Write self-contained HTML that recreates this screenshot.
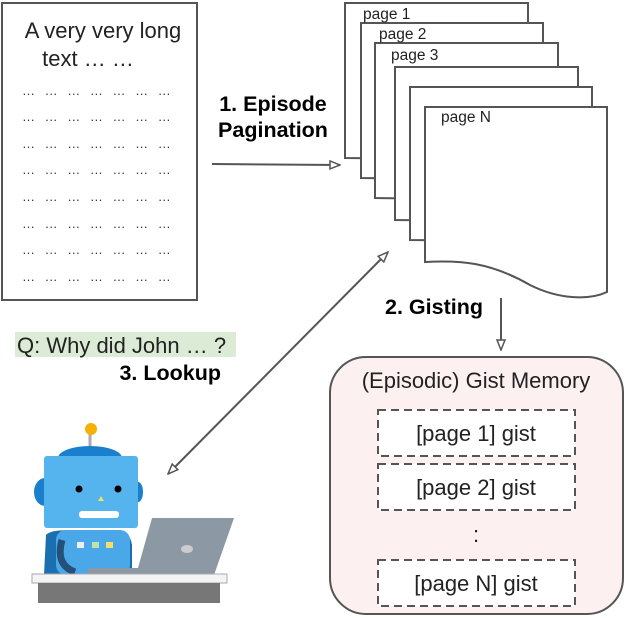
<!DOCTYPE html>
<html><head><meta charset="utf-8"><style>
html,body{margin:0;padding:0;background:#fff;width:626px;height:618px;overflow:hidden}
svg{display:block;font-family:"Liberation Sans",sans-serif}
</style></head><body>
<svg width="626" height="618" viewBox="0 0 626 618" xmlns="http://www.w3.org/2000/svg">
<defs>
<marker id="ah" markerWidth="12" markerHeight="10" refX="11" refY="5" orient="auto" markerUnits="userSpaceOnUse">
<path d="M1,1 L11,5 L1,9 Z" fill="#fff" stroke="#555" stroke-width="1.5"/>
</marker>
<marker id="ahs" markerWidth="12" markerHeight="10" refX="1" refY="5" orient="auto" markerUnits="userSpaceOnUse">
<path d="M11,1 L1,5 L11,9 Z" fill="#fff" stroke="#555" stroke-width="1.5"/>
</marker>
</defs>
<rect x="2" y="3" width="195" height="297" fill="#fff" stroke="#555" stroke-width="2"/>
<text x="103" y="38" font-size="22" text-anchor="middle" fill="#222">A very very long</text>
<text x="88" y="66" font-size="22" text-anchor="middle" fill="#222">text … …</text>
<g font-size="13" fill="#333" letter-spacing="1.2">
<text x="22" y="95" textLength="150">… … … … … … …</text>
<text x="22" y="121" textLength="150">… … … … … … …</text>
<text x="22" y="148" textLength="150">… … … … … … …</text>
<text x="22" y="174" textLength="150">… … … … … … …</text>
<text x="22" y="201" textLength="150">… … … … … … …</text>
<text x="22" y="228" textLength="150">… … … … … … …</text>
<text x="22" y="254" textLength="150">… … … … … … …</text>
<text x="22" y="281" textLength="150">… … … … … … …</text>
</g>
<text x="273" y="111" font-size="21.5" font-weight="bold" text-anchor="middle">1. Episode</text>
<text x="273" y="137" font-size="21.5" font-weight="bold" text-anchor="middle">Pagination</text>
<line x1="212" y1="164" x2="340" y2="165" stroke="#555" stroke-width="2" marker-end="url(#ah)"/>
<g fill="#fff" stroke="#555" stroke-width="2">
<path d="M345,3 H528 V160 L345,158 Z"/>
<path d="M361,23 H543 V180 L361,178 Z"/>
<path d="M375,43 H558 V200 L375,198 Z"/>
<path d="M395,67 H578 V222 L395,220 Z"/>
<path d="M410,87 H592 V242 L410,240 Z"/>
<path d="M425,107 H607 V292 C590,300 560,300 530,285 C490,262 460,260 425,262 Z"/>
</g>
<g font-size="15.5" fill="#222">
<text x="363" y="19">page 1</text>
<text x="379" y="39">page 2</text>
<text x="391" y="60">page 3</text>
<text x="441" y="122">page N</text>
</g>
<text x="434" y="314" font-size="21.5" font-weight="bold" text-anchor="middle">2. Gisting</text>
<line x1="501" y1="298" x2="501" y2="350" stroke="#555" stroke-width="2" marker-end="url(#ah)"/>
<rect x="15" y="332" width="221" height="25" fill="#dcebd6"/>
<text x="17" y="353" font-size="22" fill="#222">Q: Why did John … ?</text>
<text x="221" y="380" font-size="21.5" font-weight="bold" text-anchor="end">3. Lookup</text>
<line x1="168" y1="474" x2="388" y2="252" stroke="#555" stroke-width="2" marker-start="url(#ahs)" marker-end="url(#ah)"/>
<rect x="330" y="357" width="293" height="257" rx="36" fill="#fcf0f0" stroke="#555" stroke-width="2"/>
<text x="476" y="388" font-size="22" text-anchor="middle" fill="#222">(Episodic) Gist Memory</text>
<g fill="#fff" stroke="#555" stroke-width="2" stroke-dasharray="8,5">
<rect x="378" y="410" width="197" height="46"/>
<rect x="378" y="464" width="197" height="46"/>
<rect x="378" y="560" width="197" height="46"/>
</g>
<g font-size="22" text-anchor="middle" fill="#222">
<text x="476" y="441">[page 1] gist</text>
<text x="476" y="495">[page 2] gist</text>
<text x="476" y="591">[page N] gist</text>
<text x="476" y="542">:</text>
</g>
<g>
<line x1="90" y1="430" x2="90" y2="448" stroke="#aab" stroke-width="3"/>
<circle cx="91" cy="429" r="6" fill="#f5b000"/>
<ellipse cx="90" cy="458" rx="32" ry="12" fill="#1a7fcc"/>
<ellipse cx="45" cy="492" rx="11" ry="14" fill="#1a7fcc"/>
<ellipse cx="138" cy="492" rx="5" ry="10" fill="#1a7fcc"/>
<path d="M46,535 Q50,530 70,530 H115 Q130,530 132,545 V575 H44 Z" fill="#1a6fb0"/>
<rect x="56" y="530" width="74" height="45" rx="10" fill="#4aa8e8"/>
<rect x="44" y="456" width="94" height="72" rx="3" fill="#55b3ee"/>
<circle cx="79" cy="489" r="3.5" fill="#000"/>
<circle cx="118" cy="489" r="3.5" fill="#000"/>
<path d="M98,501 L101,496 L104,501 Z" fill="#f0e060"/>
<rect x="79" y="511" width="40" height="7" rx="3" fill="#fff"/>
<rect x="77" y="542" width="7" height="6" fill="#eee"/>
<rect x="92" y="542" width="7" height="6" fill="#bfe3a8"/>
<rect x="106" y="542" width="7" height="6" fill="#f3e06a"/>
<path d="M62,540 Q55,565 75,572" stroke="#24507a" stroke-width="7" fill="none"/>
<path d="M152,518 H234 L214,575 H136 Z" fill="#8c98a4"/>
<ellipse cx="187" cy="549" rx="6" ry="4" fill="#ccc"/>
<rect x="88" y="568" width="60" height="6" fill="#8c98a4"/>
<rect x="32" y="574" width="195" height="9" fill="#f4f4f4" stroke="#aaa" stroke-width="1"/>
<rect x="38" y="583" width="182" height="20" fill="#777"/>
</g>
</svg>
</body></html>
